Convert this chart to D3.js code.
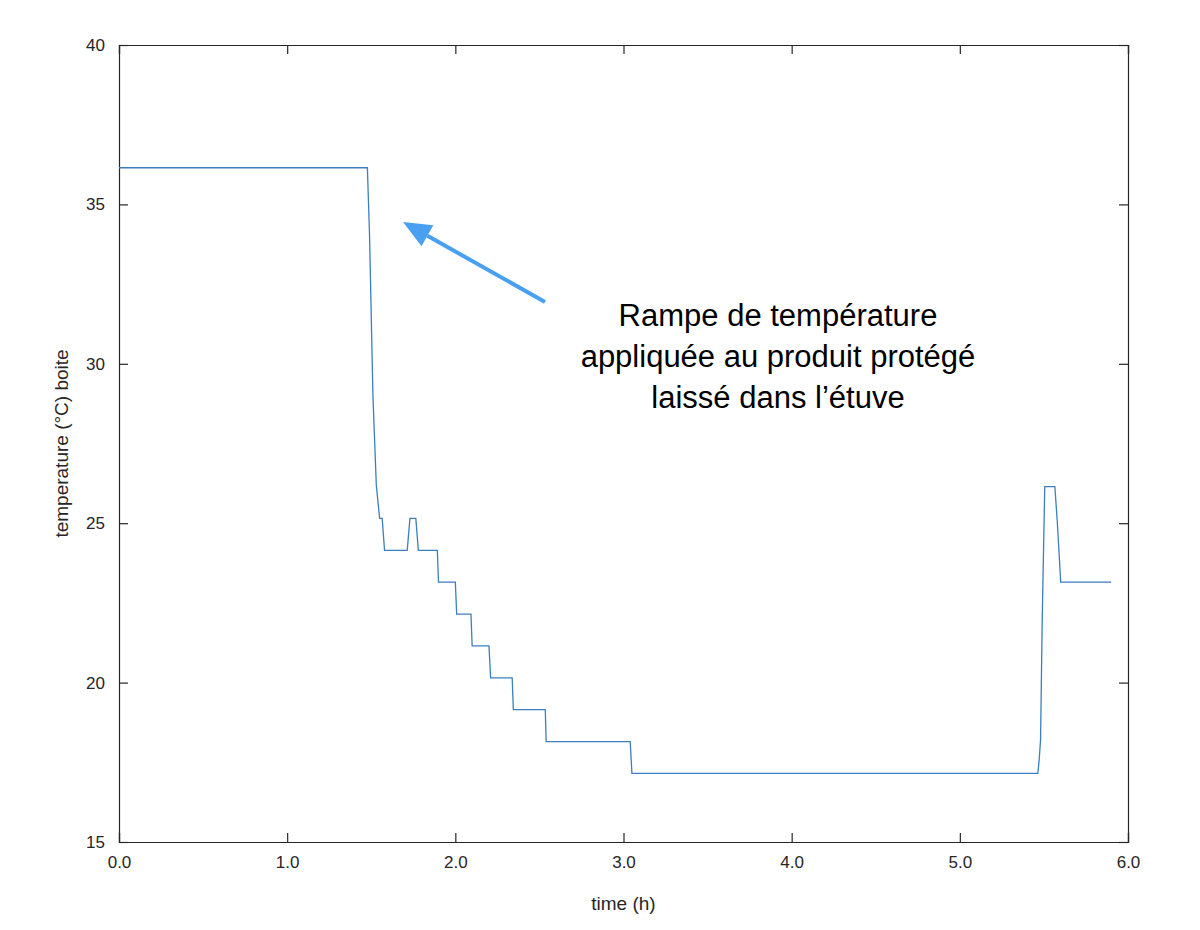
<!DOCTYPE html>
<html>
<head>
<meta charset="utf-8">
<script src="https://cdn.jsdelivr.net/npm/d3@7"></script>
<style>
  body { margin: 0; background: #fff; }
  text { font-family: "Liberation Sans", Arial, sans-serif; }
</style>
</head>
<body>
<svg id="chart" width="1200" height="930"></svg>
<script>
// time (h) and box temperature (°C)
const times = [0, 1.477, 1.49, 1.51, 1.53, 1.55, 1.565, 1.579, 1.714, 1.73, 1.765, 1.78,
  1.893, 1.9, 2.0, 2.008, 2.093, 2.1, 2.2, 2.21, 2.338, 2.345, 2.535, 2.54, 3.04, 3.05,
  5.464, 5.472, 5.48, 5.49, 5.505, 5.565, 5.58, 5.6, 5.9];
const temps = [36.15, 36.15, 34, 29, 26.2, 25.15, 25.15, 24.15, 24.15, 25.15, 25.15, 24.15,
  24.15, 23.15, 23.15, 22.15, 22.15, 21.15, 21.15, 20.15, 20.15, 19.15, 19.15, 18.15, 18.15, 17.15,
  17.15, 17.6, 18.2, 22, 26.15, 26.15, 25, 23.15, 23.15];
const xTicks = [0, 1, 2, 3, 4, 5, 6];
const yTicks = [15, 20, 25, 30, 35, 40];
const noteLines = ['Rampe de température', 'appliquée au produit protégé', 'laissé dans l’étuve'];

const svg = d3.select('#chart');
const plotLeft = 119, plotRight = 1128, plotTop = 45, plotBottom = 842;

const x = d3.scaleLinear().domain([0, 6]).range([plotLeft, plotRight]);
const y = d3.scaleLinear().domain([15, 40]).range([plotBottom, plotTop]);

// axes, MATLAB style: ticks inside on all four sides
const tickLen = 9;
svg.append('g').attr('transform', `translate(0,${plotBottom})`)
  .call(d3.axisBottom(x).tickValues(xTicks).tickSize(-tickLen).tickPadding(14));
svg.append('g').attr('transform', `translate(0,${plotTop})`)
  .call(d3.axisTop(x).tickValues(xTicks).tickSize(-tickLen).tickFormat(''));
svg.append('g').attr('transform', `translate(${plotLeft},0)`)
  .call(d3.axisLeft(y).tickValues(yTicks).tickSize(-tickLen).tickPadding(14));
svg.append('g').attr('transform', `translate(${plotRight},0)`)
  .call(d3.axisRight(y).tickValues(yTicks).tickSize(-tickLen).tickFormat(''));

svg.selectAll('.domain').attr('stroke', '#262626').attr('stroke-width', 1.2);
svg.selectAll('.tick line').attr('stroke', '#262626').attr('stroke-width', 1.2);
svg.selectAll('.tick text').attr('font-size', 17).attr('fill', '#262626')
  .attr('font-family', '"Liberation Sans", Arial, sans-serif');

// data line
const line = d3.line().x((d, i) => x(times[i])).y(d => y(d));
svg.append('path')
  .datum(temps)
  .attr('d', line)
  .attr('fill', 'none')
  .attr('stroke', '#3b7fc0')
  .attr('stroke-width', 1.3);

// axis labels
svg.append('text')
  .attr('x', (plotLeft + plotRight) / 2).attr('y', 910)
  .attr('text-anchor', 'middle').attr('font-size', 19).attr('fill', '#262626')
  .text('time (h)');
svg.append('text')
  .attr('transform', `translate(68,${(plotTop + plotBottom) / 2}) rotate(-90)`)
  .attr('text-anchor', 'middle').attr('font-size', 19).attr('fill', '#262626')
  .text('temperature (°C) boite');

// annotation arrow
const arrowColor = '#4aa0f0';
const ax0 = 545, ay0 = 302, ax1 = 403, ay1 = 222;
const ang = Math.atan2(ay1 - ay0, ax1 - ax0);
const headLen = 28, headW = 12;
const bx = ax1 - headLen * Math.cos(ang), by = ay1 - headLen * Math.sin(ang);
svg.append('line')
  .attr('x1', ax0).attr('y1', ay0).attr('x2', bx).attr('y2', by)
  .attr('stroke', arrowColor).attr('stroke-width', 4);
svg.append('path')
  .attr('d', `M${ax1},${ay1} L${bx + headW * Math.sin(ang)},${by - headW * Math.cos(ang)} L${bx - headW * Math.sin(ang)},${by + headW * Math.cos(ang)} Z`)
  .attr('fill', arrowColor);

svg.append('g').selectAll('text')
  .data(noteLines)
  .join('text')
  .attr('x', 778)
  .attr('y', (d, i) => 326 + i * 41)
  .attr('text-anchor', 'middle')
  .attr('font-size', 31)
  .attr('fill', '#000')
  .text(d => d);
</script>
</body>
</html>
